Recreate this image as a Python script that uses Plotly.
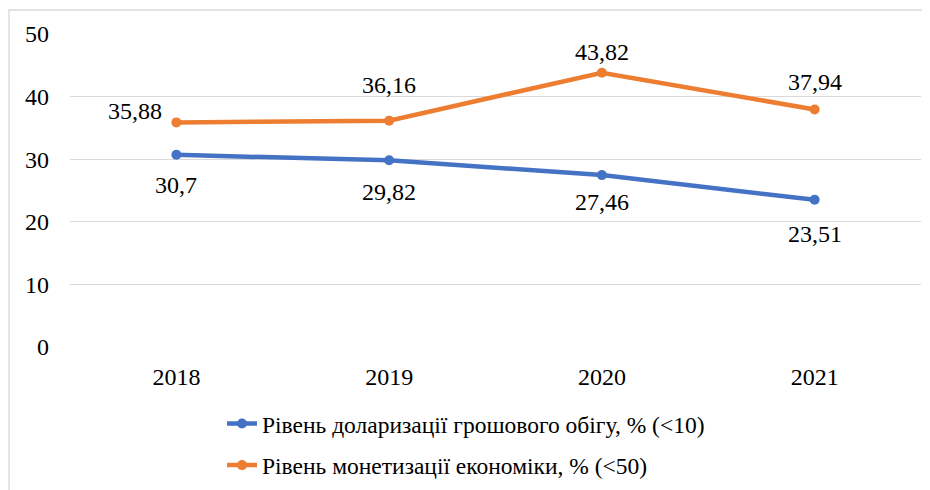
import plotly.graph_objects as go

years = ["2018", "2019", "2020", "2021"]
dollarization = [30.7, 29.82, 27.46, 23.51]
monetization = [35.88, 36.16, 43.82, 37.94]
name_dollar = "Рівень доларизації грошового обігу, % (<10)"
name_monet = "Рівень монетизації економіки, % (<50)"
y_ticks = [0, 10, 20, 30, 40, 50]

BLUE = "#4472C4"
ORANGE = "#ED7D31"
FONT = "Liberation Serif"

def fmt(v):
    s = ("%.2f" % v).rstrip("0").rstrip(".")
    return s.replace(".", ",")

fig = go.Figure()
fig.add_trace(go.Scatter(x=years, y=dollarization, name=name_dollar, mode="lines+markers",
                         line=dict(color=BLUE, width=4.5), marker=dict(color=BLUE, size=10),
                         legendgroup="a"))
fig.add_trace(go.Scatter(x=years, y=monetization, name=name_monet, mode="lines+markers",
                         line=dict(color=ORANGE, width=4.5), marker=dict(color=ORANGE, size=10),
                         legendgroup="b"))

# label offsets (styling)
monet_shift = [(-41, 11), (0, 36), (0, 21), (0, 28)]
dollar_shift = [(0, -30), (0, -32), (0, -27), (0, -34)]
for i, (v, (dx, dy)) in enumerate(zip(monetization, monet_shift)):
    fig.add_annotation(x=i, y=v, text=fmt(v), showarrow=False, xshift=dx, yshift=dy,
                       xanchor="center", yanchor="middle", font=dict(size=24, color="#000000", family=FONT))
for i, (v, (dx, dy)) in enumerate(zip(dollarization, dollar_shift)):
    fig.add_annotation(x=i, y=v, text=fmt(v), showarrow=False, xshift=dx, yshift=dy,
                       xanchor="center", yanchor="middle", font=dict(size=24, color="#000000", family=FONT))

# page has an 8px body margin; figure sized so the plot area matches the reference
L, T, PW, PH = 62, 26, 851, 313
fig.add_shape(type="rect", xref="paper", yref="paper", x0=(1 - L) / PW, x1=1.2,
              y0=-0.6, y1=(T + PH - 2) / PH, line=dict(color="#D9D9D9", width=1.3), layer="below")

fig.update_layout(
    width=922, height=482,
    margin=dict(l=L, r=922 - L - PW, t=T, b=482 - T - PH, autoexpand=False),
    paper_bgcolor="white", plot_bgcolor="white",
    font=dict(family=FONT, size=24, color="#000000"),
    showlegend=True,
    legend=dict(orientation="v", x=(214 - L) / PW, xanchor="left", y=-0.175, yanchor="top",
                font=dict(size=23.5, family=FONT), tracegroupgap=8, bgcolor="rgba(0,0,0,0)"),
    xaxis=dict(type="category", range=[-0.5, len(years) - 0.5], autorange=False,
               showgrid=False, showline=False, zeroline=False,
               ticks="outside", ticklen=8, tickcolor="rgba(0,0,0,0)",
               tickfont=dict(size=24, family=FONT)),
    yaxis=dict(range=[0, 50], tickvals=y_ticks, showgrid=True, gridcolor="#D9D9D9", gridwidth=1.3,
               zeroline=False, showline=False, ticks="", ticklabelstandoff=20,
               tickfont=dict(size=24, family=FONT)),
)

fig.write_html("out.html")
